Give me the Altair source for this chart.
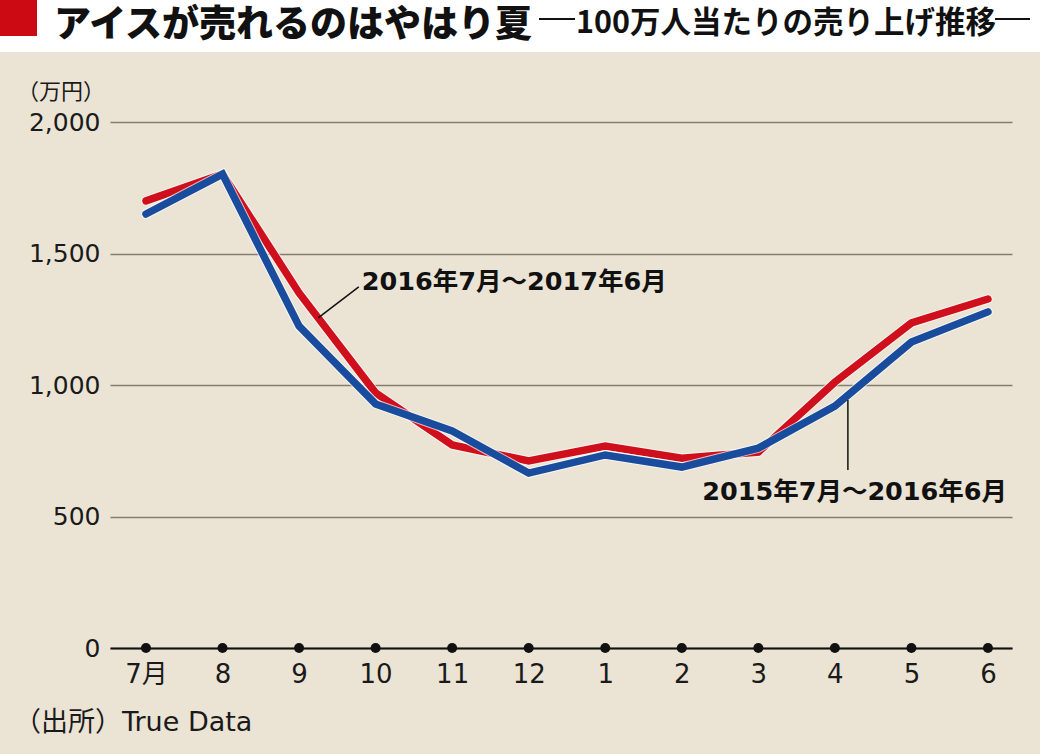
import altair as alt
import pandas as pd

months = ["7月", "8", "9", "10", "11", "12", "1", "2", "3", "4", "5", "6"]
sales_2016 = [1700, 1802, 1350, 970, 772, 711, 768, 722, 745, 1011, 1236, 1327]
sales_2015 = [1650, 1802, 1224, 928, 825, 665, 734, 688, 760, 920, 1163, 1278]
y_ticks = [0, 500, 1000, 1500, 2000]
label_2016 = "2016年7月〜2017年6月"
label_2015 = "2015年7月〜2016年6月"

RED = "#cf0f1c"
BLUE = "#1a4c9e"
BG = "#ebe4d5"
FONT = "DejaVu Sans, Noto Sans CJK JP, sans-serif"
CJK = "Noto Sans CJK JP"

idx = list(range(len(months)))
df = pd.DataFrame({
    "i": idx * 2,
    "v": sales_2016 + sales_2015,
    "s": ["2016"] * 12 + ["2015"] * 12,
})
d16 = df[df.s == "2016"]
d15 = df[df.s == "2015"]

xs = alt.Scale(domain=[-0.47, 11.314], nice=False, zero=False)
ys = alt.Scale(domain=[0, 2000], nice=False)

label_expr = "[" + ",".join(f"'{m}'" for m in months) + "][datum.value]"

X = alt.X("i:Q", scale=xs, axis=alt.Axis(
    values=idx, labelExpr=label_expr, title=None, ticks=False, grid=False,
    domain=True, domainColor="#111", domainWidth=2, labelFontSize=26,
    labelFont=FONT, labelColor="#1a1a1a", labelPadding=13, zindex=1))
Y = alt.Y("v:Q", scale=ys, axis=alt.Axis(
    values=y_ticks, format=",d", title=None, ticks=False, domain=False,
    grid=True, gridColor="#857d6e", gridWidth=1.5, labelFontSize=25,
    labelFont=FONT, labelColor="#1a1a1a", labelPadding=10))

def series(d, color):
    halo = alt.Chart(d).mark_line(color="#ffffff", strokeWidth=9.5, opacity=0.7,
                                  strokeCap="round", strokeJoin="miter").encode(x=X, y=Y)
    line = alt.Chart(d).mark_line(color=color, strokeWidth=7.5,
                                  strokeCap="round", strokeJoin="miter").encode(
        x=alt.X("i:Q", scale=xs), y=alt.Y("v:Q", scale=ys))
    return halo + line

red = series(d16, RED)
blue = series(d15, BLUE)

dots = alt.Chart(pd.DataFrame({"i": idx, "v": [0] * 12})).mark_point(
    filled=True, color="#111", size=100, opacity=1).encode(
    x=alt.X("i:Q", scale=xs), y=alt.Y("v:Q", scale=ys))

ann = pd.DataFrame({
    "x": [2.25, 9.17], "y": [1255, 943], "x2": [2.78, 9.17], "y2": [1373, 677],
})
leaders = alt.Chart(ann).mark_rule(color="#111", strokeWidth=1.5).encode(
    x=alt.X("x:Q", scale=xs), y=alt.Y("y:Q", scale=ys), x2="x2:Q", y2="y2:Q")

t16 = alt.Chart(pd.DataFrame({"x": [2.82], "y": [1390], "t": [label_2016]})).mark_text(
    align="left", baseline="middle", fontSize=25.5, font=FONT, fontWeight="bold",
    color="#111").encode(x=alt.X("x:Q", scale=xs), y=alt.Y("y:Q", scale=ys), text="t:N")
t15 = alt.Chart(pd.DataFrame({"x": [11.25], "y": [593], "t": [label_2015]})).mark_text(
    align="right", baseline="middle", fontSize=25.5, font=FONT, fontWeight="bold",
    color="#111").encode(x=alt.X("x:Q", scale=xs), y=alt.Y("y:Q", scale=ys), text="t:N")

# header band and texts (decoration, in pixels relative to the plot area)
band = alt.Chart(pd.DataFrame({"a": [0]})).mark_rect(color="#ffffff").encode(
    x=alt.value(-110), x2=alt.value(930), y=alt.value(-122), y2=alt.value(-70))
square = alt.Chart(pd.DataFrame({"a": [0]})).mark_rect(color="#cc0a14").encode(
    x=alt.value(-110), x2=alt.value(-73), y=alt.value(-122), y2=alt.value(-86))
title_main = alt.Chart(pd.DataFrame({"t": ["アイスが売れるのはやはり夏"]})).mark_text(
    align="left", baseline="alphabetic", fontSize=37, font=CJK, fontWeight=900,
    color="#111").encode(x=alt.value(-56), y=alt.value(-85), text="t:N")
title_sub = alt.Chart(pd.DataFrame({"t": ["100万人当たりの売り上げ推移"]})).mark_text(
    align="left", baseline="alphabetic", fontSize=30.5, font=CJK, fontWeight="bold",
    color="#111").encode(x=alt.value(466), y=alt.value(-89), text="t:N")
dashes = alt.Chart(pd.DataFrame({"a": [0]})).mark_rule(color="#111", strokeWidth=2).encode(
    x=alt.value(429), x2=alt.value(465), y=alt.value(-103))
dashes2 = alt.Chart(pd.DataFrame({"a": [0]})).mark_rule(color="#111", strokeWidth=2).encode(
    x=alt.value(885), x2=alt.value(920), y=alt.value(-103))
unit = alt.Chart(pd.DataFrame({"t": ["（万円）"]})).mark_text(
    align="left", baseline="middle", fontSize=22, font=CJK, color="#1a1a1a").encode(
    x=alt.value(-93), y=alt.value(-30), text="t:N")
source = alt.Chart(pd.DataFrame({"t": ["（出所）True Data"]})).mark_text(
    align="left", baseline="middle", fontSize=27, font=FONT, color="#1a1a1a").encode(
    x=alt.value(-96), y=alt.value(601), text="t:N")

chart = alt.layer(
    band, square, title_main, title_sub, dashes, dashes2, unit, source,
    red, blue, dots, leaders, t16, t15,
).properties(
    width=902, height=526,
    padding={"left": 110, "top": 122, "right": 28, "bottom": 106},
    autosize=alt.AutoSizeParams(type="none"),
    background=BG,
).configure_view(stroke=None, clip=False)

chart.save("out.html", embed_options={"renderer": "svg", "actions": False})
